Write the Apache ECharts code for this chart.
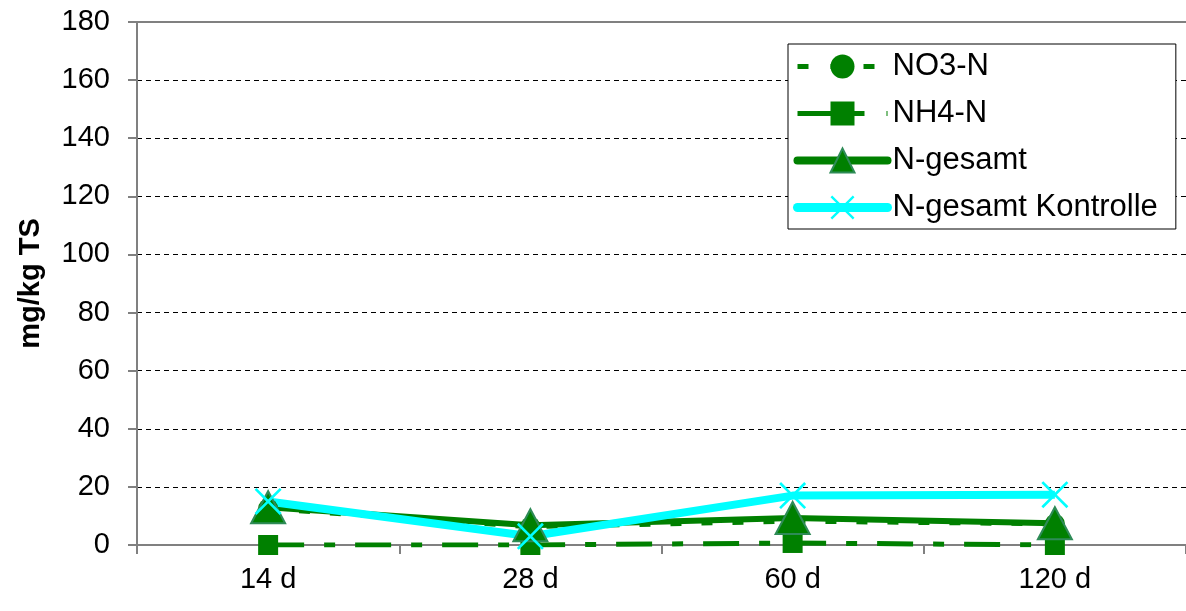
<!DOCTYPE html>
<html>
<head>
<meta charset="utf-8">
<script src="https://cdn.jsdelivr.net/npm/echarts@6/dist/echarts.min.js"></script>
<style>
  html, body { margin: 0; padding: 0; background: #fff; }
  #chart { width: 1186px; height: 611px; }
</style>
</head>
<body>
<div id="chart"></div>
<script>
// data
const categories = ['14 d', '28 d', '60 d', '120 d'];
const no3 = [12.5, 6.3, 8.2, 7.3];
const nh4 = [0, 0, 0.7, 0];
const nGesamt = [13, 6.8, 9.3, 7.5];
const nKontrolle = [15, 3, 17, 17.3];
const yTicks = [0, 20, 40, 60, 80, 100, 120, 140, 160, 180];

const green = '#008000';
const cyan = '#00ffff';
const font = 'Liberation Sans, Arial, sans-serif';

// filled X shape
const xMark = 'path://M7,0L50,43L93,0L100,7L57,50L100,93L93,100L50,57L7,100L0,93L43,50L0,7Z';

const chart = echarts.init(document.getElementById('chart'));

const option = {
  backgroundColor: '#ffffff',
  animation: false,
  textStyle: { fontFamily: font },
  grid: { left: 137, top: 22, right: -5, bottom: 66 },
  legend: {
    orient: 'vertical',
    left: 788,
    top: 44,
    padding: [7, 18, 6, 5],
    itemWidth: 90,
    itemHeight: 30,
    itemGap: 16,
    borderColor: '#000',
    borderWidth: 1,
    backgroundColor: '#fff',
    textStyle: { fontSize: 31, color: '#000', fontFamily: font },
    data: [
      { name: 'NO3-N', lineStyle: { width: 5, type: [11, 22] } },
      { name: 'NH4-N', lineStyle: { width: 5, type: [34, 22, 11, 22] } },
      { name: 'N-gesamt', lineStyle: { width: 8, cap: 'round' } },
      { name: 'N-gesamt Kontrolle', lineStyle: { width: 9, cap: 'round' } }
    ]
  },
  xAxis: [{
    type: 'category',
    data: categories,
    boundaryGap: true,
    axisLine: { lineStyle: { color: '#808080', width: 2 } },
    axisTick: { show: true, length: 9, lineStyle: { color: '#808080', width: 2 } },
    axisLabel: { fontSize: 29, color: '#000', margin: 20 },
    splitLine: { show: false }
  }, {
    type: 'category',
    position: 'top',
    data: categories,
    axisLine: { show: true, lineStyle: { color: '#808080', width: 2 } },
    axisTick: { show: false },
    axisLabel: { show: false }
  }],
  yAxis: {
    type: 'value',
    min: yTicks[0],
    max: yTicks[yTicks.length - 1],
    interval: 20,
    name: 'mg/kg TS',
    nameLocation: 'middle',
    nameGap: 92,
    nameTextStyle: { fontSize: 29, fontWeight: 'bold', color: '#000', fontFamily: font },
    axisLine: { show: true, lineStyle: { color: '#808080', width: 2 } },
    axisTick: { show: true, length: 9, lineStyle: { color: '#808080', width: 2 } },
    axisLabel: { fontSize: 29, color: '#000', margin: 27 },
    splitLine: { show: true, lineStyle: { color: '#000', width: 1, type: [5, 4] } }
  },
  series: [
    {
      name: 'NO3-N',
      type: 'line',
      data: no3,
      symbol: 'circle',
      symbolSize: 20,
      itemStyle: { color: green },
      lineStyle: { color: green, width: 5, type: [11, 20] }
    },
    {
      name: 'NH4-N',
      type: 'line',
      data: nh4,
      symbol: 'rect',
      symbolSize: 20,
      itemStyle: { color: green },
      lineStyle: { color: green, width: 5, type: [36, 20, 11, 20] }
    },
    {
      name: 'N-gesamt',
      type: 'line',
      data: nGesamt,
      symbol: 'triangle',
      symbolSize: [34, 32],
      itemStyle: { color: green, borderColor: '#2e8b57', borderWidth: 2 },
      lineStyle: { color: green, width: 6 }
    },
    {
      name: 'N-gesamt Kontrolle',
      type: 'line',
      data: nKontrolle,
      symbol: xMark,
      symbolSize: 27,
      itemStyle: { color: cyan },
      lineStyle: { color: cyan, width: 8 }
    }
  ]
};

chart.setOption(option);
</script>
</body>
</html>
